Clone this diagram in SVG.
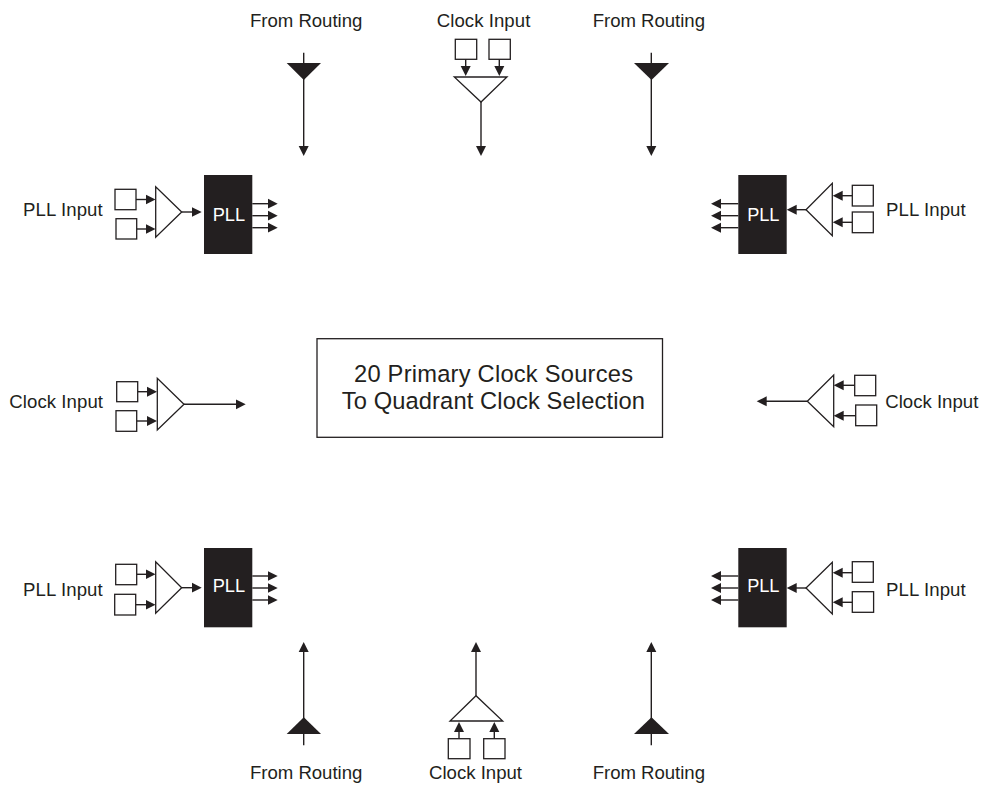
<svg xmlns="http://www.w3.org/2000/svg" width="982" height="785" viewBox="0 0 982 785">
<style>
text{font-family:"Liberation Sans",Arial,sans-serif;fill:#231f20;font-size:18.6px}
.c{font-size:23.7px}
.p{fill:#fff;font-size:18.2px}
.n{fill:#fff;stroke:#231f20;stroke-width:1.3}
.k{fill:#231f20;stroke:none}
.l{fill:none;stroke:#231f20;stroke-width:1.4}
.s{marker-end:url(#m)}
</style>
<defs>
<marker id="m" markerUnits="userSpaceOnUse" markerWidth="11" markerHeight="11" refX="5" refY="5.5" orient="auto"><path d="M0,0.5L10,5.5L0,10.5z" fill="#231f20"/></marker>
</defs>
<rect width="982" height="785" fill="#fff"/>
<g id="connectors" class="l">
<path class="s" d="M303.7,52.7V151"/>
<path class="s" d="M651.3,52.7V151"/>
<path class="s" d="M481,102V151"/>
<path class="s" d="M465.7,59V71"/>
<path class="s" d="M499.3,59V71"/>
<path class="s" d="M303.7,745.3V647"/>
<path class="s" d="M651.3,745.3V647"/>
<path class="s" d="M476,695.7V647"/>
<path class="s" d="M459,739V727"/>
<path class="s" d="M494.3,739V727"/>
<path class="s" d="M136,199.5H150.5"/>
<path class="s" d="M136.7,229H150.5"/>
<path class="s" d="M181.7,212H196.7"/>
<path class="s" d="M252.3,203.7H272.7"/>
<path class="s" d="M252.3,215.7H272.7"/>
<path class="s" d="M252.3,227.7H272.7"/>
<path class="s" d="M852.3,195.7H837.7"/>
<path class="s" d="M852.3,222.3H837.7"/>
<path class="s" d="M806,209.7H791.7"/>
<path class="s" d="M738.3,203.7H716"/>
<path class="s" d="M738.3,215.7H716"/>
<path class="s" d="M738.3,227.7H716"/>
<path class="s" d="M137.7,391.7H152"/>
<path class="s" d="M136.7,421H152"/>
<path class="s" d="M184,404.3H240.7"/>
<path class="s" d="M854.7,385.3H838.7"/>
<path class="s" d="M855.7,415.7H838.7"/>
<path class="s" d="M807.3,401.3H761.7"/>
<path class="s" d="M136.7,574.3H150.5"/>
<path class="s" d="M135.7,604.7H150.5"/>
<path class="s" d="M181.7,587.7H196.7"/>
<path class="s" d="M252.3,576H272.7"/>
<path class="s" d="M252.3,588H272.7"/>
<path class="s" d="M252.3,600H272.7"/>
<path class="s" d="M852.3,572.7H837.7"/>
<path class="s" d="M852.3,602.3H837.7"/>
<path class="s" d="M806,588H791.7"/>
<path class="s" d="M738.3,576H716"/>
<path class="s" d="M738.3,588H716"/>
<path class="s" d="M738.3,600H716"/>
</g>
<g id="center"><rect class="n" x="317" y="338.7" width="345.5" height="98.6"/>
<text class="c" x="354" y="382.3" textLength="279">20 Primary Clock Sources</text>
<text class="c" x="341.7" y="408.7" textLength="303.3">To Quadrant Clock Selection</text></g>
<g id="routing-top-left"><path class="k" d="M286.7,63H321L303.8,80z"/><text x="250" y="26.7" textLength="112.3">From Routing</text></g>
<g id="routing-top-right"><path class="k" d="M634,63H669L651.5,80z"/><text x="592.7" y="26.7" textLength="112.3">From Routing</text></g>
<g id="clock-top"><rect class="n" x="455.3" y="39.3" width="21.4" height="20"/><rect class="n" x="489" y="39.3" width="21.3" height="20"/><path class="n" d="M454.3,77H507L481,102z"/><text x="436.7" y="26.7" textLength="93.6">Clock Input</text></g>
<g id="routing-bottom-left"><path class="k" d="M286.7,734H321L303.8,717.3z"/><text x="250" y="779.3" textLength="112.3">From Routing</text></g>
<g id="routing-bottom-right"><path class="k" d="M634,734H669L651.5,717.3z"/><text x="592.7" y="779.3" textLength="112.3">From Routing</text></g>
<g id="clock-bottom"><rect class="n" x="448.3" y="738.7" width="21.7" height="20"/><rect class="n" x="483.7" y="738.7" width="21.3" height="20"/><path class="n" d="M450,721H502.7L476,695.7z"/><text x="429" y="779.3" textLength="93">Clock Input</text></g>
<g id="pll-top-left"><rect class="n" x="115" y="189.3" width="21" height="20.4"/><rect class="n" x="116" y="218.7" width="20.7" height="20.3"/><path class="n" d="M155.7,186.7V237.3L181.7,212z"/><rect class="k" x="204" y="175" width="48.3" height="79"/><text class="p" x="212.7" y="220.7" textLength="32.3">PLL</text><text x="23" y="216" textLength="79.7">PLL Input</text></g>
<g id="pll-top-right"><rect class="n" x="852.3" y="185.3" width="21" height="20.7"/><rect class="n" x="852.3" y="212" width="21" height="20.7"/><path class="n" d="M832.3,183.3V235.7L806,209.7z"/><rect class="k" x="738.3" y="175" width="48.4" height="79"/><text class="p" x="747.3" y="220.7" textLength="32">PLL</text><text x="886" y="216" textLength="79.7">PLL Input</text></g>
<g id="clock-left"><rect class="n" x="116.7" y="381.7" width="21" height="20"/><rect class="n" x="116" y="410.7" width="20.7" height="20.6"/><path class="n" d="M157.3,378.3V430L184,404.3z"/><text x="9.3" y="408" textLength="93.7">Clock Input</text></g>
<g id="clock-right"><rect class="n" x="854.7" y="375.3" width="21" height="20.4"/><rect class="n" x="855.7" y="405" width="21" height="20.7"/><path class="n" d="M833.7,375V426.7L807.3,401.3z"/><text x="885.3" y="408" textLength="93">Clock Input</text></g>
<g id="pll-bottom-left"><rect class="n" x="115.7" y="564.3" width="21" height="20.4"/><rect class="n" x="114.7" y="594.3" width="21" height="20.7"/><path class="n" d="M155.7,561.7V613.3L181.7,587.7z"/><rect class="k" x="204" y="548" width="48.3" height="79.3"/><text class="p" x="212.7" y="592.3" textLength="32.3">PLL</text><text x="23" y="596" textLength="79.7">PLL Input</text></g>
<g id="pll-bottom-right"><rect class="n" x="852.3" y="561.7" width="21" height="20.6"/><rect class="n" x="852.3" y="591.7" width="21.3" height="20.6"/><path class="n" d="M832.3,562.3V614L806,588z"/><rect class="k" x="738.3" y="548" width="48.4" height="79.3"/><text class="p" x="747.3" y="592.3" textLength="32">PLL</text><text x="886" y="596" textLength="79.7">PLL Input</text></g>
</svg>
